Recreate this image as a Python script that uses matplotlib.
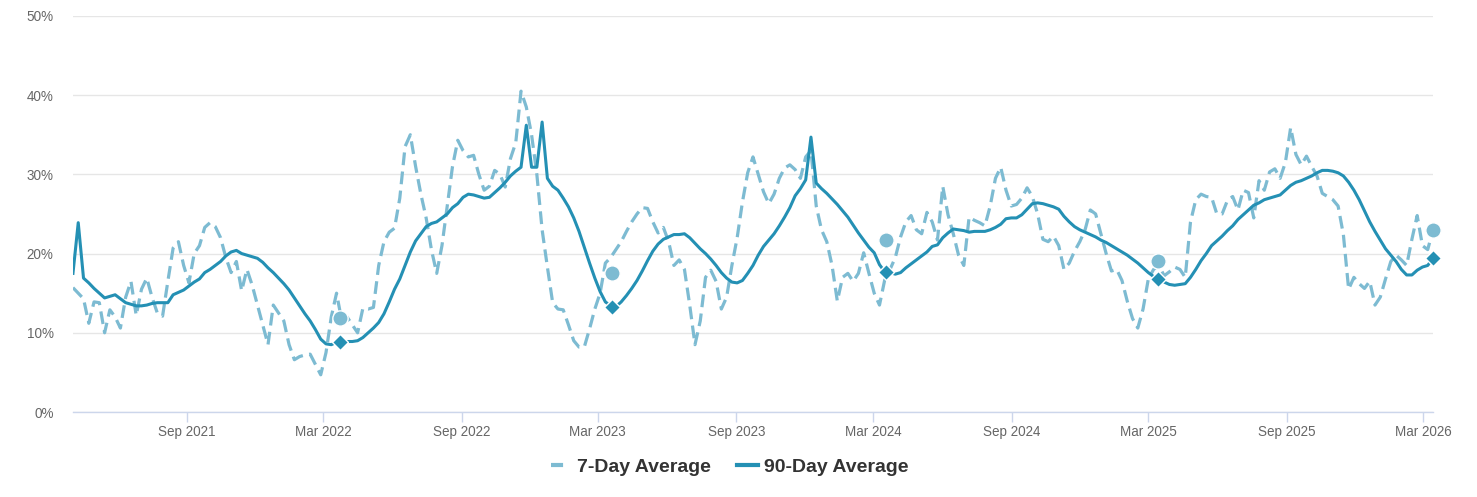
import numpy as np
import pandas as pd
import matplotlib
matplotlib.use("Agg")
import matplotlib.pyplot as plt
from matplotlib.lines import Line2D
from matplotlib.ticker import FuncFormatter

plt.rcParams['font.family'] = ['Liberation Sans', 'DejaVu Sans']

# weekly series ending 2026-03-14
end_date = "2026-03-14"

avg7 = [
    15.7, 15.0, 14.3, 11.2, 13.9, 13.8, 10.0, 12.9, 12.0, 10.6,
    14.5, 16.5, 12.2, 15.5, 16.9, 14.5, 12.5, 12.1, 16.5, 20.7,
    21.5, 18.5, 16.3, 20.0, 21.0, 23.3, 23.9, 23.4, 22.0, 19.5,
    17.6, 19.0, 15.3, 18.0, 16.0, 13.5, 11.0, 8.5, 13.5, 12.5,
    11.5, 8.5, 6.6, 7.0, 7.2, 7.3, 6.0, 4.7, 7.5, 12.0,
    15.0, 11.5, 12.0, 11.0, 10.0, 13.1, 13.0, 13.2, 18.5, 21.5,
    22.7, 23.2, 27.0, 33.5, 35.0, 31.0, 27.5, 24.5, 20.5, 17.5,
    21.0, 26.0, 31.0, 34.3, 33.0, 32.2, 32.4, 30.0, 28.0, 28.5,
    30.5, 30.0, 28.4, 32.0, 34.0, 40.5, 38.5, 35.0, 30.0, 23.0,
    18.3, 13.8, 13.0, 12.9, 11.0, 9.0, 8.2, 8.2, 10.5, 13.0,
    15.0, 18.8, 19.5, 20.5, 21.5, 22.8, 24.0, 25.0, 25.8, 25.7,
    24.0, 22.6, 23.3, 21.5, 18.5, 19.2, 18.0, 13.5, 8.5, 11.5,
    17.0, 17.9, 16.5, 13.0, 14.5, 18.5, 22.0, 26.5, 30.2, 32.2,
    30.0, 27.8, 26.3, 27.5, 29.5, 30.8, 31.2, 30.6, 29.5, 32.2,
    33.0, 26.0, 23.0, 21.5, 18.5, 14.0, 17.0, 17.5, 16.5, 17.5,
    20.1, 17.5, 15.0, 13.5, 16.7, 18.0, 19.5, 22.1, 24.0, 24.8,
    23.0, 22.5, 25.2, 24.0, 21.7, 28.5, 24.9, 22.5, 19.8, 18.5,
    24.6, 24.2, 23.9, 23.5, 26.0, 29.5, 30.9, 28.0, 26.0, 26.2,
    27.0, 28.3, 27.2, 25.0, 21.8, 21.5, 22.2, 21.0, 18.0, 18.8,
    20.3, 21.5, 23.0, 25.5, 25.0, 22.5, 20.0, 17.8, 18.0, 16.6,
    14.0, 11.8, 10.6, 13.0, 16.8, 18.0, 18.5, 17.2, 17.7, 18.3,
    18.0, 17.0, 24.0, 26.8, 27.5, 27.2, 27.1, 25.0, 25.0, 26.7,
    27.2, 25.5, 28.0, 27.7, 24.5, 29.2, 28.0, 30.3, 30.7, 29.5,
    31.5, 35.9, 32.5, 31.2, 32.3, 31.0, 29.8, 27.6, 27.2, 26.8,
    26.0, 22.4, 15.5, 17.0, 16.2, 15.6, 16.5, 13.5, 14.5, 16.8,
    19.0, 19.8, 19.2, 18.5, 21.8, 24.8, 21.0, 20.5, 23.0,
]

avg90 = [
    17.5, 23.9, 16.9, 16.3, 15.6, 15.0, 14.4, 14.6, 14.8, 14.3,
    13.8, 13.6, 13.4, 13.4, 13.5, 13.7, 13.8, 13.8, 13.8, 14.8,
    15.1, 15.4, 15.9, 16.4, 16.8, 17.6, 18.0, 18.5, 19.0, 19.7,
    20.2, 20.4, 20.0, 19.8, 19.6, 19.4, 18.9, 18.2, 17.6, 16.9,
    16.2, 15.4, 14.4, 13.4, 12.4, 11.5, 10.4, 9.2, 8.6, 8.5,
    8.8, 8.9, 8.9, 8.9, 9.0, 9.4, 10.0, 10.6, 11.3, 12.4,
    13.9, 15.5, 16.8, 18.5, 20.2, 21.6, 22.5, 23.4, 23.8, 24.0,
    24.5, 25.0, 25.8, 26.3, 27.1, 27.5, 27.4, 27.2, 27.0, 27.1,
    27.7, 28.3, 29.0, 29.8, 30.4, 30.9, 36.2, 30.9, 30.9, 36.6,
    29.5, 28.5, 28.0, 27.0, 25.9, 24.5, 22.8, 20.8, 18.8, 16.9,
    15.2, 13.9, 13.4, 13.3, 13.9, 14.7, 15.6, 16.6, 17.8, 19.1,
    20.3, 21.2, 21.8, 22.1, 22.4, 22.4, 22.5, 22.0, 21.3, 20.6,
    20.0, 19.3, 18.5, 17.6, 16.9, 16.4, 16.3, 16.6, 17.5, 18.5,
    19.8, 20.9, 21.7, 22.5, 23.5, 24.6, 25.8, 27.3, 28.2, 29.3,
    34.7, 28.9, 28.2, 27.6, 26.9, 26.2, 25.4, 24.6, 23.6, 22.6,
    21.7, 20.8, 20.1, 18.6, 17.7, 17.6, 17.4, 17.6, 18.2, 18.7,
    19.2, 19.7, 20.2, 20.9, 21.1, 22.0, 22.6, 23.1, 23.0, 22.9,
    22.7, 22.8, 22.8, 22.8, 23.0, 23.3, 23.7, 24.4, 24.5, 24.5,
    24.9, 25.6, 26.3, 26.4, 26.3, 26.1, 25.9, 25.6, 24.7, 24.0,
    23.4, 23.0, 22.7, 22.4, 22.1, 21.7, 21.4, 21.0, 20.6, 20.2,
    19.8, 19.3, 18.8, 18.2, 17.6, 17.1, 16.8, 16.4, 16.1, 16.0,
    16.1, 16.2, 17.0, 18.0, 19.1, 20.0, 21.0, 21.6, 22.2, 22.9,
    23.5, 24.3, 24.9, 25.5, 26.1, 26.4, 26.8, 27.0, 27.2, 27.4,
    28.0, 28.6, 29.0, 29.2, 29.5, 29.8, 30.2, 30.5, 30.5, 30.4,
    30.2, 29.8, 29.0, 28.0, 26.8, 25.4, 24.0, 22.8, 21.7, 20.6,
    19.8, 19.0, 18.0, 17.3, 17.3, 17.9, 18.3, 18.5, 19.4,
]

# highlighted points, one per year
mark_dates = ["2022-03-23", "2023-03-20", "2024-03-18", "2025-03-14", "2026-03-14"]
mark7 = [11.9, 17.6, 21.7, 19.1, 23.0]
mark90 = [8.9, 13.3, 17.7, 16.8, 19.4]

tick_dates = ["2021-09-01", "2022-03-01", "2022-09-01", "2023-03-01", "2023-09-01",
              "2024-03-01", "2024-09-01", "2025-03-01", "2025-09-01", "2026-03-01"]
tick_labels = ["Sep 2021", "Mar 2022", "Sep 2022", "Mar 2023", "Sep 2023",
               "Mar 2024", "Sep 2024", "Mar 2025", "Sep 2025", "Mar 2026"]

c7 = "#7dbbd2"
c90 = "#2490b4"

dates = pd.date_range(end=end_date, periods=len(avg7), freq="7D")

fig = plt.figure(figsize=(14.77, 4.97), dpi=100)
ax = fig.add_axes([0.0494, 0.171, 0.9208, 0.797])

ax.plot(dates, avg7, color=c7, lw=2.3, dashes=(4, 2), zorder=2)
ax.plot(dates, avg90, color=c90, lw=2.2, zorder=3)

md = pd.to_datetime(mark_dates)
ax.plot(md, mark7, "o", color=c7, ms=11, mec="white", mew=1, ls="none",
        zorder=4, clip_on=False)
ax.plot(md, mark90, "D", color=c90, ms=8.5, mec="white", mew=1, ls="none",
        zorder=4, clip_on=False)

ax.set_xlim(dates[0], dates[-1])
ax.set_ylim(0, 50)
ax.set_yticks([0, 10, 20, 30, 40, 50])
ax.yaxis.set_major_formatter(FuncFormatter(lambda v, p: f"{int(v)}%"))
ax.set_xticks(pd.to_datetime(tick_dates))
ax.set_xticklabels(tick_labels)

ax.grid(axis="y", color="#e6e6e6", lw=1)
ax.set_axisbelow(True)
for s in ["top", "right", "left"]:
    ax.spines[s].set_visible(False)
ax.spines["bottom"].set_color("#ccd6eb")
ax.spines["bottom"].set_linewidth(1)
ax.tick_params(axis="y", length=0, labelsize=9.75, labelcolor="#666666", pad=14)
ax.tick_params(axis="x", length=7.5, width=1, color="#ccd6eb", labelsize=9.75,
               labelcolor="#666666", pad=2)

handles = [Line2D([], [], color=c7, lw=3, dashes=(2.9, 10)),
           Line2D([], [], color=c90, lw=3)]
leg = fig.legend(handles, ["7-Day Average", "90-Day Average"], loc="center",
                 bbox_to_anchor=(0.494, 0.06), ncol=2, frameon=False,
                 handlelength=1.05, handletextpad=0.3, columnspacing=1.35,
                 prop={"weight": "bold", "size": 14})
for t in leg.get_texts():
    t.set_color("#333333")

fig.savefig("out.png", dpi=100)
